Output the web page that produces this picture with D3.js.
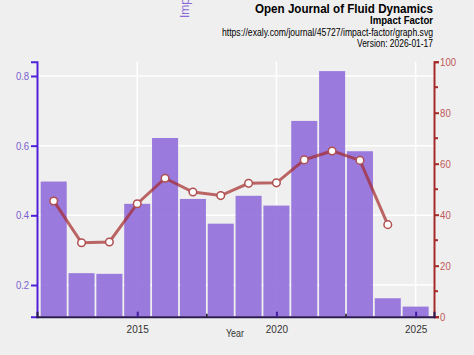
<!DOCTYPE html>
<html><head><meta charset="utf-8">
<script src="https://cdn.jsdelivr.net/npm/d3@7"></script>
<style>body{margin:0;background:#efefef;}svg{display:block;font-family:"Liberation Sans",Arial,sans-serif;}</style>
</head><body>
<svg id="c" width="474" height="355"></svg>
<script>
const years = [2012,2013,2014,2015,2016,2017,2018,2019,2020,2021,2022,2023,2024,2025];
const impactFactor = [0.497,0.234,0.232,0.433,0.622,0.447,0.376,0.456,0.428,0.671,0.814,0.584,0.162,0.138];
const lineYears = [2012,2013,2014,2015,2016,2017,2018,2019,2020,2021,2022,2023,2024];
const percentile = [45.4,29.0,29.3,44.3,54.3,48.9,47.5,52.3,52.5,61.5,65.0,61.3,36.1];
const leftTicks = [0.2,0.4,0.6,0.8];
const rightTicks = [0,20,40,60,80,100];
const rightMinor = [10,30,50,70,90];
const xTicks = [2015,2020,2025];
const xMinor = [2017.5,2022.5];

const FONT = "Liberation Sans, Arial, sans-serif";
const SX = "scale(0.87,1)";
const svg = d3.select("#c");
const x = d3.scaleLinear().domain([2011.4,2025.66]).range([37,434]);
const yL = d3.scaleLinear().domain([0.109,0.841]).range([316.7,61.7]);
const yR = d3.scaleLinear().domain([0,100]).range([316.7,61.7]);
const bottom = 316.7;
const step = x(2013)-x(2012);

// grid
const g = svg.append("g");
g.selectAll("line.h").data(leftTicks).join("line")
  .attr("x1",37).attr("x2",434).attr("y1",d=>yL(d)).attr("y2",d=>yL(d))
  .attr("stroke","#fff").attr("stroke-width",1.5);
g.selectAll("line.v").data(xTicks).join("line")
  .attr("y1",61.7).attr("y2",bottom).attr("x1",d=>x(d)).attr("x2",d=>x(d))
  .attr("stroke","#fff").attr("stroke-width",1.5);

// bars
svg.append("g").selectAll("rect").data(years).join("rect")
  .attr("x",(d)=>x(d)-step/2+0.9).attr("width",step-1.8)
  .attr("y",(d,i)=>yL(impactFactor[i])).attr("height",(d,i)=>bottom-yL(impactFactor[i]))
  .attr("fill","#9370db").attr("fill-opacity",0.92);

// line
const lineData = lineYears.map((d,i)=>[d,percentile[i]]);
svg.append("path").datum(lineData)
  .attr("d",d3.line().x(d=>x(d[0])).y(d=>yR(d[1])))
  .attr("fill","none").attr("stroke","#a52a2a").attr("stroke-opacity",0.7).attr("stroke-width",3);
svg.append("g").selectAll("circle").data(lineData).join("circle")
  .attr("cx",d=>x(d[0])).attr("cy",d=>yR(d[1])).attr("r",3.8)
  .attr("fill","#fff").attr("stroke","#b05050").attr("stroke-width",1.5);

// left axis
const la = svg.append("g").attr("transform","translate(37,0)")
  .call(d3.axisLeft(yL).tickValues(leftTicks).tickSize(6).tickPadding(3).tickFormat(d3.format(".1f")));
la.select(".domain").attr("stroke","#5020d8").attr("stroke-width",2);
la.selectAll(".tick line").attr("stroke","#5020d8").attr("stroke-width",2);
la.selectAll(".tick text").attr("fill","#7a5fd0").attr("font-size",11).attr("font-family",FONT).attr("transform",SX);

// right axis
const ra = svg.append("g").attr("transform","translate(434,0)")
  .call(d3.axisRight(yR).tickValues(rightTicks).tickSize(5).tickPadding(2));
ra.select(".domain").attr("stroke","#a52a2a").attr("stroke-width",2);
ra.selectAll(".tick line").attr("stroke","#a52a2a").attr("stroke-width",2);
ra.selectAll(".tick text").attr("fill","#c05858").attr("font-size",11).attr("font-family",FONT).attr("transform",SX);
svg.append("g").selectAll("line").data(rightMinor).join("line")
  .attr("x1",434).attr("x2",438).attr("y1",d=>yR(d)).attr("y2",d=>yR(d))
  .attr("stroke","#a52a2a").attr("stroke-width",2);

// bottom axis
const ba = svg.append("g").attr("transform",`translate(0,${bottom})`)
  .call(d3.axisBottom(x).tickValues(xTicks).tickSize(-5).tickPadding(8).tickFormat(d3.format("d")));
ba.select(".domain").attr("stroke","#2a1a50").attr("stroke-width",2);
ba.selectAll(".tick line").attr("stroke","#4020a0").attr("stroke-width",2);
ba.selectAll(".tick text").attr("fill","#333").attr("font-size",11.5).attr("font-family",FONT).attr("transform",SX);
svg.append("g").selectAll("line").data(xMinor).join("line")
  .attr("x1",d=>x(d)).attr("x2",d=>x(d)).attr("y1",bottom).attr("y2",bottom-3)
  .attr("stroke","#111").attr("stroke-width",1.5);

svg.append("text").attr("x",235).attr("y",337).attr("text-anchor","middle")
  .attr("font-size",11).attr("fill","#333").attr("textLength",18).attr("lengthAdjust","spacingAndGlyphs").text("Year");

// y label (clipped at top, as in the reference)
svg.append("text").attr("transform","translate(189,18) rotate(-90)")
  .attr("text-anchor","start").attr("font-size",12).attr("fill","#8a6ad8").text("Impact Factor");

// titles
const tx = 433;
const titles = [
  {t:"Open Journal of Fluid Dynamics", y:12.5, s:13.5, w:178, b:true},
  {t:"Impact Factor", y:24, s:11.2, w:63, b:true},
  {t:"https://exaly.com/journal/45727/impact-factor/graph.svg", y:36, s:10.3, w:211, b:false},
  {t:"Version: 2026-01-17", y:47.3, s:10.3, w:76, b:false}
];
svg.append("g").selectAll("text").data(titles).join("text")
  .attr("x",tx).attr("y",d=>d.y).attr("text-anchor","end")
  .attr("font-size",d=>d.s).attr("font-weight",d=>d.b?"bold":"normal").attr("fill","#000")
  .attr("textLength",d=>d.w).attr("lengthAdjust","spacingAndGlyphs").text(d=>d.t);
</script>
</body></html>
